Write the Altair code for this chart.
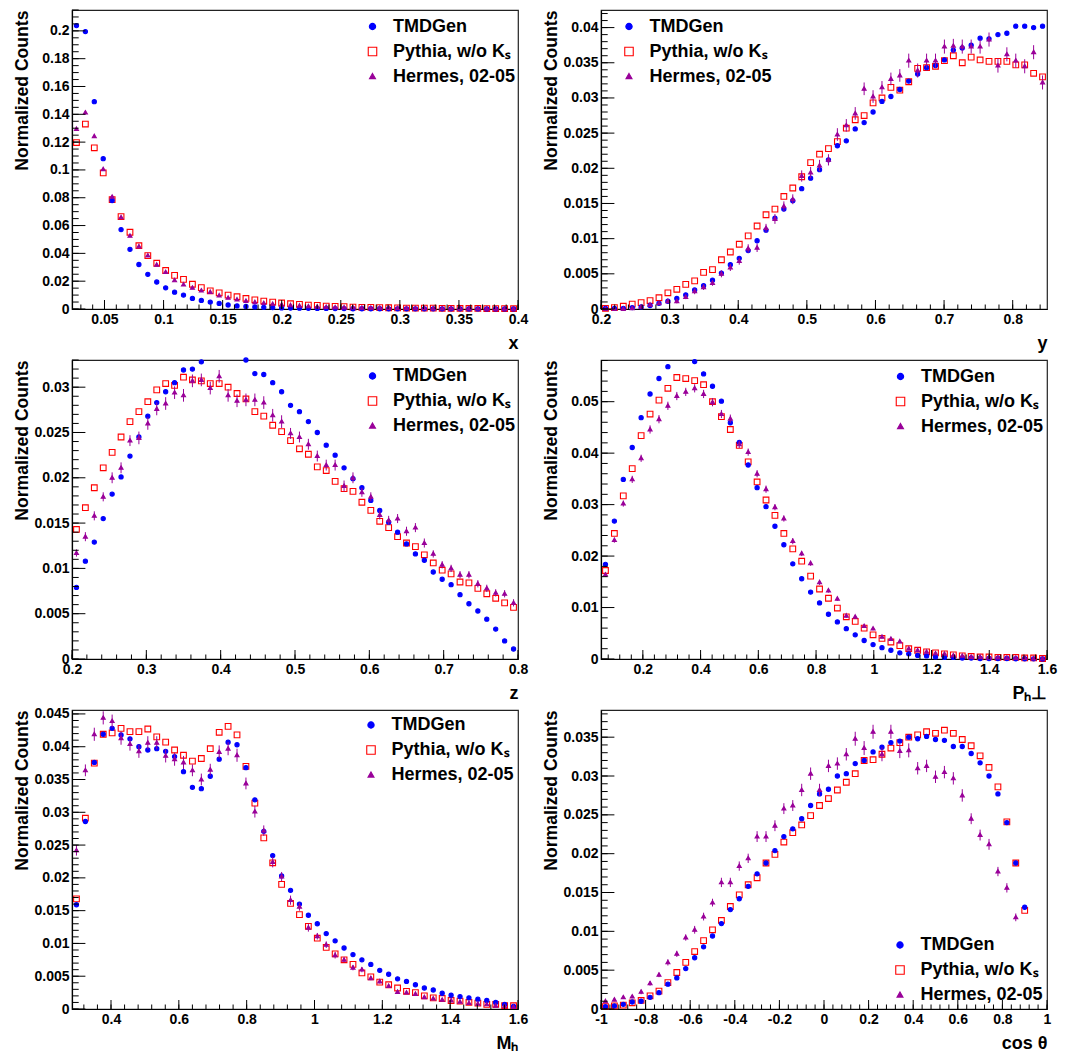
import altair as alt
import pandas as pd

FONT = "Liberation Sans"
BLUE = "#0000ff"
RED = "#ff0000"
PURPLE = "#990099"
SERIES = ["TMDGen", "Pythia, w/o K\u209b", "Hermes, 02-05"]
# marker outlines (unit paths, scaled by the size channel)
CIRCLE = "M0.63,0A0.63,0.63 0 1,1 -0.63,0A0.63,0.63 0 1,1 0.63,0Z"
SQUARE = "M-0.85,-0.85H0.85V0.85H-0.85Z"
TRIANGLE = "M0,-0.62L0.6,0.42L-0.6,0.42Z"
W, H = 446, 299

# ---------------- x ----------------
X_BINS = (0.0225, 0.4)
X_TMD = [0.2038, 0.1995, 0.1491, 0.1081, 0.0780, 0.0571, 0.0429, 0.0320, 0.0249, 0.0194,
         0.0152, 0.0121, 0.0100, 0.0076, 0.0062, 0.0050, 0.0040, 0.0029, 0.0022, 0.0018,
         0.0015, 0.0012, 0.0010, 0.0008, 0.0007, 0.0006, 0.0005, 0.0004, 0.0004, 0.0003,
         0.0003, 0.0002, 0.0002, 0.0002, 0.0002, 0.0001, 0.0001, 0.0001, 0.0001, 0.0001,
         0.0001, 0.0001, 0.0001, 0.0001, 0.00005, 0.00005, 0.00005, 0.00005, 0.00005, 0.00005]
X_PYT = [0.1197, 0.1330, 0.1159, 0.0979, 0.0787, 0.0664, 0.0552, 0.0455, 0.0384, 0.0329,
         0.0277, 0.0242, 0.0213, 0.0178, 0.0154, 0.0130, 0.0116, 0.0100, 0.0088, 0.0076,
         0.0066, 0.0057, 0.0050, 0.0043, 0.0038, 0.0033, 0.0028, 0.0026, 0.0021, 0.0019,
         0.0017, 0.0014, 0.0012, 0.0012, 0.0010, 0.0009, 0.0008, 0.0007, 0.0007, 0.0006,
         0.0006, 0.0005, 0.0005, 0.0004, 0.0004, 0.0004, 0.0003, 0.0003, 0.0003, 0.0002]
X_HER = [0.1294, 0.1412, 0.1242, 0.1005, 0.0806, 0.0659, 0.0526, 0.0450, 0.0384, 0.0318,
         0.0265, 0.0206, 0.0175, 0.0152, 0.0132, 0.0122, 0.0097, 0.0080, 0.0068, 0.0058,
         0.0049, 0.0042, 0.0036, 0.0031, 0.0027, 0.0023, 0.0019, 0.0016, 0.0014, 0.0012,
         0.0011, 0.0010, 0.0009, 0.0008, 0.0008, 0.0007, 0.0006, 0.0006, 0.0005, 0.0005,
         0.0004, 0.0004, 0.0004, 0.0003, 0.0003, 0.0003, 0.0002, 0.0002, 0.0002, 0.0001]
X_ERR = [0.0012, 0.0013, 0.0012, 0.0011, 0.0010, 0.0009, 0.0008, 0.0007, 0.0007, 0.0006,
         0.0006, 0.0005, 0.0005, 0.0004, 0.0004, 0.0004, 0.0003, 0.0003, 0.0003, 0.0003,
         0.0002, 0.0002, 0.0002, 0.0002, 0.0002, 0.0002, 0.0001, 0.0001, 0.0001, 0.0001,
         0.0001, 0.0001, 0.0001, 0.0001, 0.0001, 0.0001, 0.0001, 0.0001, 0.0001, 0.0001,
         0.0001, 0.0001, 0.0001, 0.0001, 0.0001, 0.0001, 0.0001, 0.0001, 0.0001, 0.0001]

# ---------------- y ----------------
Y_BINS = (0.2, 0.85)
Y_TMD = [0.0001, 0.0001, 0.0001, 0.0002, 0.0003, 0.0005, 0.0008, 0.0011, 0.0015, 0.0020,
         0.0027, 0.0033, 0.0041, 0.0051, 0.0063, 0.0072, 0.0083, 0.0097, 0.0112, 0.0129,
         0.0142, 0.0154, 0.0171, 0.0186, 0.0198, 0.0212, 0.0232, 0.0239, 0.0256, 0.0265,
         0.0280, 0.0295, 0.0302, 0.0312, 0.0324, 0.0334, 0.0343, 0.0346, 0.0354, 0.0368,
         0.0371, 0.0375, 0.0385, 0.0384, 0.0390, 0.0392, 0.0402, 0.0402, 0.0400, 0.0402]
Y_PYT = [0.0001, 0.0002, 0.0004, 0.0007, 0.0009, 0.0012, 0.0016, 0.0023, 0.0028, 0.0035,
         0.0040, 0.0052, 0.0056, 0.0070, 0.0081, 0.0092, 0.0104, 0.0118, 0.0134, 0.0142,
         0.0160, 0.0172, 0.0188, 0.0208, 0.0220, 0.0228, 0.0238, 0.0257, 0.0269, 0.0275,
         0.0293, 0.0300, 0.0315, 0.0311, 0.0323, 0.0342, 0.0343, 0.0345, 0.0353, 0.0360,
         0.0350, 0.0358, 0.0354, 0.0352, 0.0352, 0.0352, 0.0347, 0.0347, 0.0335, 0.0330]
Y_HER = [0.0000, 0.0000, 0.0000, 0.0001, 0.0003, 0.0006, 0.0008, 0.0011, 0.0011, 0.0017,
         0.0025, 0.0031, 0.0037, 0.0050, 0.0059, 0.0068, 0.0086, 0.0087, 0.0115, 0.0128,
         0.0146, 0.0156, 0.0189, 0.0194, 0.0204, 0.0212, 0.0248, 0.0261, 0.0278, 0.0313,
         0.0302, 0.0315, 0.0327, 0.0332, 0.0353, 0.0339, 0.0353, 0.0353, 0.0373, 0.0374,
         0.0373, 0.0373, 0.0373, 0.0383, 0.0346, 0.0362, 0.0353, 0.0345, 0.0365, 0.0322]
Y_ERR = [0.0001, 0.0001, 0.0001, 0.0001, 0.0002, 0.0002, 0.0002, 0.0003, 0.0003, 0.0003,
         0.0004, 0.0004, 0.0004, 0.0005, 0.0005, 0.0005, 0.0006, 0.0006, 0.0006, 0.0007,
         0.0007, 0.0007, 0.0008, 0.0008, 0.0008, 0.0008, 0.0009, 0.0009, 0.0009, 0.0009,
         0.0009, 0.0009, 0.0009, 0.0009, 0.0010, 0.0010, 0.0010, 0.0010, 0.0010, 0.0010,
         0.0010, 0.0010, 0.0010, 0.0010, 0.0010, 0.0010, 0.0010, 0.0010, 0.0010, 0.0010]

# ---------------- z ----------------
Z_BINS = (0.2, 0.8)
Z_TMD = [0.0079, 0.0108, 0.0129, 0.0155, 0.0182, 0.0201, 0.0224, 0.0245, 0.0268, 0.0283,
         0.0295, 0.0305, 0.0319, 0.0320, 0.0328, 0.0334, 0.0337, 0.0337, 0.0334, 0.0330,
         0.0315, 0.0314, 0.0305, 0.0295, 0.0280, 0.0273, 0.0262, 0.0250, 0.0236, 0.0225,
         0.0211, 0.0199, 0.0189, 0.0175, 0.0164, 0.0151, 0.0140, 0.0127, 0.0116, 0.0109,
         0.0096, 0.0088, 0.0082, 0.0071, 0.0061, 0.0053, 0.0044, 0.0033, 0.0020, 0.0011]
Z_PYT = [0.0143, 0.0167, 0.0189, 0.0211, 0.0228, 0.0245, 0.0262, 0.0273, 0.0284, 0.0297,
         0.0304, 0.0302, 0.0311, 0.0308, 0.0307, 0.0304, 0.0304, 0.0300, 0.0293, 0.0287,
         0.0273, 0.0268, 0.0258, 0.0251, 0.0241, 0.0232, 0.0226, 0.0212, 0.0208, 0.0196,
         0.0188, 0.0185, 0.0173, 0.0164, 0.0152, 0.0145, 0.0135, 0.0128, 0.0124, 0.0115,
         0.0106, 0.0098, 0.0094, 0.0085, 0.0084, 0.0078, 0.0072, 0.0067, 0.0062, 0.0057]
Z_HER = [0.0117, 0.0135, 0.0158, 0.0179, 0.0200, 0.0211, 0.0241, 0.0244, 0.0260, 0.0276,
         0.0282, 0.0294, 0.0291, 0.0307, 0.0308, 0.0299, 0.0312, 0.0291, 0.0285, 0.0286,
         0.0286, 0.0283, 0.0269, 0.0262, 0.0249, 0.0245, 0.0237, 0.0224, 0.0214, 0.0214,
         0.0191, 0.0200, 0.0184, 0.0179, 0.0159, 0.0153, 0.0155, 0.0141, 0.0145, 0.0128,
         0.0116, 0.0104, 0.0100, 0.0093, 0.0093, 0.0083, 0.0078, 0.0073, 0.0072, 0.0062]
Z_ERR = [0.0004, 0.0005, 0.0005, 0.0005, 0.0006, 0.0006, 0.0006, 0.0007, 0.0007, 0.0007,
         0.0007, 0.0007, 0.0007, 0.0007, 0.0007, 0.0007, 0.0007, 0.0007, 0.0007, 0.0007,
         0.0007, 0.0007, 0.0007, 0.0007, 0.0006, 0.0006, 0.0006, 0.0006, 0.0006, 0.0006,
         0.0006, 0.0006, 0.0005, 0.0005, 0.0005, 0.0005, 0.0005, 0.0005, 0.0005, 0.0005,
         0.0004, 0.0004, 0.0004, 0.0004, 0.0004, 0.0004, 0.0004, 0.0004, 0.0004, 0.0004]

# ---------------- P_h_perp ----------------
P_BINS = (0.055, 1.6)
P_TMD = [0.0184, 0.0268, 0.0349, 0.0411, 0.0469, 0.0515, 0.0545, 0.0568, 0.0586, 0.0588,
         0.0578, 0.0554, 0.0530, 0.0501, 0.0459, 0.0421, 0.0377, 0.0333, 0.0296, 0.0258,
         0.0222, 0.0185, 0.0156, 0.0130, 0.0109, 0.0087, 0.0072, 0.0059, 0.0047, 0.0036,
         0.0028, 0.0022, 0.0017, 0.0012, 0.0010, 0.0007, 0.0006, 0.0004, 0.0003, 0.0003,
         0.0002, 0.0002, 0.0001, 0.0001, 0.0001, 0.0001, 0.00005, 0.00005, 0.00003, 0.00002]
P_PYT = [0.0172, 0.0244, 0.0317, 0.0370, 0.0434, 0.0476, 0.0503, 0.0526, 0.0547, 0.0545,
         0.0541, 0.0533, 0.0500, 0.0471, 0.0446, 0.0415, 0.0383, 0.0344, 0.0309, 0.0279,
         0.0244, 0.0214, 0.0190, 0.0161, 0.0136, 0.0118, 0.0099, 0.0082, 0.0073, 0.0060,
         0.0047, 0.0040, 0.0033, 0.0026, 0.0020, 0.0017, 0.0014, 0.0012, 0.0010, 0.0008,
         0.0006, 0.0005, 0.0004, 0.0004, 0.0003, 0.0003, 0.0003, 0.0002, 0.0002, 0.0001]
P_HER = [0.0164, 0.0231, 0.0302, 0.0349, 0.0390, 0.0446, 0.0466, 0.0492, 0.0511, 0.0519,
         0.0526, 0.0515, 0.0499, 0.0476, 0.0467, 0.0417, 0.0402, 0.0360, 0.0330, 0.0295,
         0.0273, 0.0229, 0.0205, 0.0186, 0.0149, 0.0133, 0.0117, 0.0084, 0.0082, 0.0064,
         0.0059, 0.0043, 0.0039, 0.0034, 0.0020, 0.0017, 0.0014, 0.0011, 0.0010, 0.0007,
         0.0006, 0.0004, 0.0004, 0.0003, 0.0003, 0.0002, 0.0002, 0.0002, 0.0001, 0.0001]
P_ERR = [0.0004, 0.0005, 0.0006, 0.0007, 0.0007, 0.0008, 0.0008, 0.0008, 0.0008, 0.0008,
         0.0008, 0.0008, 0.0008, 0.0008, 0.0008, 0.0007, 0.0007, 0.0007, 0.0007, 0.0006,
         0.0006, 0.0006, 0.0005, 0.0005, 0.0005, 0.0004, 0.0004, 0.0004, 0.0003, 0.0003,
         0.0003, 0.0003, 0.0002, 0.0002, 0.0002, 0.0002, 0.0002, 0.0001, 0.0001, 0.0001,
         0.0001, 0.0001, 0.0001, 0.0001, 0.0001, 0.0001, 0.0001, 0.0001, 0.0001, 0.0001]

# ---------------- M_h ----------------
M_BINS = (0.285, 1.6)
M_TMD = [0.0159, 0.0286, 0.0376, 0.0419, 0.0428, 0.0418, 0.0412, 0.0400, 0.0395, 0.0397,
         0.0393, 0.0385, 0.0362, 0.0338, 0.0336, 0.0355, 0.0381, 0.0407, 0.0403, 0.0368,
         0.0319, 0.0271, 0.0234, 0.0203, 0.0181, 0.0160, 0.0143, 0.0130, 0.0115, 0.0104,
         0.0093, 0.0083, 0.0075, 0.0068, 0.0059, 0.0053, 0.0046, 0.0042, 0.0037, 0.0032,
         0.0029, 0.0024, 0.0021, 0.0019, 0.0017, 0.0015, 0.0013, 0.0010, 0.0007, 0.0004]
M_PYT = [0.0168, 0.0291, 0.0375, 0.0419, 0.0421, 0.0428, 0.0423, 0.0423, 0.0427, 0.0415,
         0.0407, 0.0395, 0.0387, 0.0378, 0.0382, 0.0397, 0.0422, 0.0431, 0.0418, 0.0370,
         0.0314, 0.0261, 0.0223, 0.0190, 0.0161, 0.0144, 0.0126, 0.0108, 0.0094, 0.0084,
         0.0075, 0.0068, 0.0055, 0.0049, 0.0041, 0.0037, 0.0032, 0.0027, 0.0025, 0.0020,
         0.0017, 0.0016, 0.0013, 0.0012, 0.0010, 0.0009, 0.0007, 0.0007, 0.0005, 0.0005]
M_HER = [0.0242, 0.0364, 0.0419, 0.0444, 0.0439, 0.0413, 0.0404, 0.0393, 0.0406, 0.0406,
         0.0386, 0.0381, 0.0376, 0.0364, 0.0350, 0.0365, 0.0392, 0.0397, 0.0387, 0.0344,
         0.0301, 0.0272, 0.0224, 0.0202, 0.0166, 0.0156, 0.0124, 0.0111, 0.0098, 0.0082,
         0.0075, 0.0063, 0.0060, 0.0047, 0.0042, 0.0035, 0.0026, 0.0025, 0.0023, 0.0018,
         0.0016, 0.0014, 0.0013, 0.0011, 0.0009, 0.0008, 0.0007, 0.0005, 0.0004, 0.0003]
M_ERR = [0.0008, 0.0009, 0.0010, 0.0010, 0.0010, 0.0010, 0.0010, 0.0010, 0.0010, 0.0010,
         0.0010, 0.0010, 0.0010, 0.0009, 0.0009, 0.0009, 0.0010, 0.0010, 0.0010, 0.0009,
         0.0009, 0.0008, 0.0008, 0.0007, 0.0007, 0.0006, 0.0006, 0.0005, 0.0005, 0.0005,
         0.0004, 0.0004, 0.0004, 0.0003, 0.0003, 0.0003, 0.0003, 0.0002, 0.0002, 0.0002,
         0.0002, 0.0002, 0.0002, 0.0001, 0.0001, 0.0001, 0.0001, 0.0001, 0.0001, 0.0001]

# ---------------- cos theta ----------------
C_BINS = (-1.0, 1.0)
C_TMD = [0.0003, 0.0004, 0.0006, 0.0009, 0.0010, 0.0015, 0.0021, 0.0032, 0.0040, 0.0052,
         0.0066, 0.0080, 0.0094, 0.0110, 0.0128, 0.0142, 0.0158, 0.0174, 0.0188, 0.0204,
         0.0222, 0.0232, 0.0245, 0.0262, 0.0277, 0.0283, 0.0300, 0.0303, 0.0316, 0.0320,
         0.0331, 0.0337, 0.0343, 0.0345, 0.0350, 0.0348, 0.0351, 0.0347, 0.0346, 0.0338,
         0.0338, 0.0329, 0.0317, 0.0300, 0.0277, 0.0240, 0.0188, 0.0131, None, None]
C_PYT = [0.0003, 0.0004, 0.0005, 0.0008, 0.0011, 0.0017, 0.0023, 0.0034, 0.0047, 0.0060,
         0.0074, 0.0088, 0.0102, 0.0114, 0.0132, 0.0147, 0.0160, 0.0169, 0.0188, 0.0199,
         0.0215, 0.0227, 0.0237, 0.0249, 0.0262, 0.0271, 0.0282, 0.0292, 0.0303, 0.0320,
         0.0321, 0.0328, 0.0336, 0.0343, 0.0350, 0.0353, 0.0357, 0.0355, 0.0359, 0.0355,
         0.0347, 0.0339, 0.0326, 0.0311, 0.0286, 0.0241, 0.0188, 0.0127, None, None]
C_HER = [0.0010, 0.0012, 0.0015, 0.0016, 0.0022, 0.0033, 0.0044, 0.0060, 0.0071, 0.0092,
         0.0102, 0.0119, 0.0137, 0.0163, 0.0163, 0.0184, 0.0194, 0.0222, 0.0222, 0.0236,
         0.0258, 0.0262, 0.0282, 0.0303, 0.0282, 0.0313, 0.0316, 0.0328, 0.0348, 0.0336,
         0.0357, 0.0328, 0.0357, 0.0332, 0.0333, 0.0310, 0.0313, 0.0299, 0.0305, 0.0297,
         0.0275, 0.0245, 0.0224, 0.0212, 0.0177, 0.0156, 0.0118, None, None, None]
C_ERR = [0.0002, 0.0002, 0.0002, 0.0002, 0.0003, 0.0003, 0.0003, 0.0004, 0.0004, 0.0004,
         0.0005, 0.0005, 0.0005, 0.0006, 0.0006, 0.0006, 0.0006, 0.0007, 0.0007, 0.0007,
         0.0007, 0.0007, 0.0008, 0.0008, 0.0008, 0.0008, 0.0008, 0.0008, 0.0009, 0.0009,
         0.0009, 0.0009, 0.0009, 0.0009, 0.0009, 0.0008, 0.0008, 0.0008, 0.0008, 0.0008,
         0.0008, 0.0007, 0.0007, 0.0007, 0.0006, 0.0006, 0.0005, None, None, None]


def tick_list(start, stop, step, lo, hi):
    n = int(round((stop - start) / step))
    vals = [round(start + k * step, 6) for k in range(n + 1)]
    return [v for v in vals if lo - 1e-9 <= v <= hi + 1e-9]


LABEL_EXPR = "replace(format(datum.value, '~g'), '\u2212', '-')"


def make_panel(xtitle, bins, xdom, ydom, xmaj, xmin_, ymaj, ymin_,
               tmd, pyt, her, err, legx, legy):
    lo, hi = bins
    n = len(tmd)
    w = (hi - lo) / n
    centers = [lo + (i + 0.5) * w for i in range(n)]
    recs = []
    for name, arr in ((SERIES[1], pyt), (SERIES[0], tmd), (SERIES[2], her)):
        for i, v in enumerate(arr):
            if v is None:
                continue
            e = err[i] if (name == SERIES[2] and err[i] is not None) else 0.0
            recs.append({"xc": centers[i], "v": v, "s": name, "e": e})
    df = pd.DataFrame(recs)

    xsc = alt.Scale(domain=list(xdom), nice=False, zero=False)
    ysc = alt.Scale(domain=list(ydom), nice=False, zero=False)

    xax = alt.Axis(values=xmaj, labelExpr=LABEL_EXPR, ticks=False, grid=False,
                   labelFont=FONT, labelFontWeight="bold", labelFontSize=14,
                   labelColor="black", labelPadding=3, labelFlush=False,
                   labelOverlap=False, domainColor="black", domainWidth=1.2,
                   title=xtitle, titleFont=FONT, titleFontWeight="bold",
                   titleFontSize=18, titleColor="black", titleX=W, titleY=39,
                   titleAlign="right", titleAnchor="end", titleBaseline="alphabetic")
    yax = alt.Axis(values=ymaj, labelExpr=LABEL_EXPR, ticks=False, grid=False,
                   labelFont=FONT, labelFontWeight="bold", labelFontSize=14,
                   labelColor="black", labelPadding=3, labelFlush=False,
                   labelOverlap=False, domainColor="black", domainWidth=1.2,
                   title="Normalized Counts", titleFont=FONT, titleFontWeight="bold",
                   titleFontSize=17.6, titleColor="black", titleX=-49.5, titleY=0,
                   titleAlign="right", titleAnchor="end", titleAngle=270,
                   titleBaseline="middle")

    leg = alt.Legend(title=None, orient="none", legendX=legx, legendY=legy,
                     labelFont=FONT, labelFontWeight="bold", labelFontSize=18,
                     labelColor="black", labelLimit=300, rowPadding=7,
                     labelOffset=11.5, padding=0, symbolStrokeWidth=1.1,
                     symbolOpacity=1)

    # inner tick marks (ROOT style)
    xt_major = alt.Chart(pd.DataFrame({"t": xmaj})).mark_rule(
        color="black", strokeWidth=1).encode(
        x=alt.X("t:Q", scale=xsc, axis=xax), y=alt.value(H), y2=alt.value(H - 9))
    xt_minor = alt.Chart(pd.DataFrame({"t": xmin_})).mark_rule(
        color="black", strokeWidth=1).encode(
        x=alt.X("t:Q", scale=xsc, axis=xax), y=alt.value(H), y2=alt.value(H - 4.5))
    yt_major = alt.Chart(pd.DataFrame({"t": ymaj})).mark_rule(
        color="black", strokeWidth=1).encode(
        y=alt.Y("t:Q", scale=ysc, axis=yax), x=alt.value(0), x2=alt.value(13.4))
    yt_minor = alt.Chart(pd.DataFrame({"t": ymin_})).mark_rule(
        color="black", strokeWidth=1).encode(
        y=alt.Y("t:Q", scale=ysc, axis=yax), x=alt.value(0), x2=alt.value(6.7))

    base = alt.Chart(df)
    errbars = base.transform_filter(
        f"datum.e > 0 && datum.v <= {ydom[1]}"
    ).transform_calculate(
        lo="datum.v - datum.e", hi="datum.v + datum.e"
    ).mark_rule(color=PURPLE, strokeWidth=1, clip=True).encode(
        x=alt.X("xc:Q", scale=xsc, axis=xax),
        y=alt.Y("lo:Q", scale=ysc, axis=yax),
        y2="hi:Q",
    )
    points = base.transform_filter(f"datum.v <= {ydom[1]}").mark_point(
        filled=False, opacity=1, strokeWidth=1.1, size=45).encode(
        x=alt.X("xc:Q", scale=xsc, axis=xax),
        y=alt.Y("v:Q", scale=ysc, axis=yax),
        shape=alt.Shape("s:N", scale=alt.Scale(domain=SERIES, range=[CIRCLE, SQUARE, TRIANGLE]), legend=leg),
        stroke=alt.Stroke("s:N", scale=alt.Scale(domain=SERIES, range=[BLUE, RED, PURPLE]), legend=leg),
        fill=alt.Fill("s:N", scale=alt.Scale(domain=SERIES, range=[BLUE, "transparent", PURPLE]), legend=leg),
    )
    return alt.layer(points, errbars, xt_major, xt_minor, yt_major, yt_minor).properties(
        width=W, height=H)


p1 = make_panel("x", X_BINS, (0.0225, 0.4), (0, 0.215),
                tick_list(0.05, 0.4, 0.05, 0.0225, 0.4), tick_list(0.03, 0.4, 0.01, 0.0225, 0.4),
                tick_list(0, 0.2, 0.02, 0, 0.215), tick_list(0, 0.215, 0.005, 0, 0.215),
                X_TMD, X_PYT, X_HER, X_ERR, 291.5, 7.5)
p2 = make_panel("y", Y_BINS, (0.2, 0.85), (0, 0.0425),
                tick_list(0.2, 0.8, 0.1, 0.2, 0.85), tick_list(0.2, 0.84, 0.02, 0.2, 0.85),
                tick_list(0, 0.04, 0.005, 0, 0.0425), tick_list(0, 0.042, 0.001, 0, 0.0425),
                Y_TMD, Y_PYT, Y_HER, Y_ERR, 19, 7.5)
p3 = make_panel("z", Z_BINS, (0.2, 0.8), (0, 0.033),
                tick_list(0.2, 0.8, 0.1, 0.2, 0.8), tick_list(0.2, 0.8, 0.02, 0.2, 0.8),
                tick_list(0, 0.03, 0.005, 0, 0.033), tick_list(0, 0.033, 0.001, 0, 0.033),
                Z_TMD, Z_PYT, Z_HER, Z_ERR, 291.5, 7)
p4 = make_panel("P\u2095\u22a5", P_BINS, (0.055, 1.6), (0, 0.0581),
                tick_list(0.2, 1.6, 0.2, 0.055, 1.6), tick_list(0.08, 1.6, 0.04, 0.055, 1.6),
                tick_list(0, 0.05, 0.01, 0, 0.0581), tick_list(0, 0.058, 0.002, 0, 0.0581),
                P_TMD, P_PYT, P_HER, P_ERR, 290.5, 7.5)
p5 = make_panel("M\u2095", M_BINS, (0.285, 1.6), (0, 0.0456),
                tick_list(0.4, 1.6, 0.2, 0.285, 1.6), tick_list(0.32, 1.6, 0.04, 0.285, 1.6),
                tick_list(0, 0.045, 0.005, 0, 0.0456), tick_list(0, 0.045, 0.001, 0, 0.0456),
                M_TMD, M_PYT, M_HER, M_ERR, 290, 6)
p6 = make_panel("cos \u03b8", C_BINS, (-1, 1), (0, 0.0385),
                tick_list(-1, 1, 0.2, -1, 1), tick_list(-1, 1, 0.04, -1, 1),
                tick_list(0, 0.035, 0.005, 0, 0.0385), tick_list(0, 0.038, 0.001, 0, 0.0385),
                C_TMD, C_PYT, C_HER, C_ERR, 290, 226)

chart = alt.concat(
    p1, p2, p3, p4, p5, p6, columns=2,
    spacing=alt.RowColnumber(row=51, column=83), bounds="flush",
).resolve_scale(
    shape="independent", stroke="independent", fill="independent"
).resolve_legend(
    shape="independent", stroke="independent", fill="independent"
).configure_view(
    stroke="#222222", strokeWidth=1.2
).properties(
    padding={"left": 4, "top": 0, "right": 0, "bottom": 0}, background="white"
)

chart.save("out.html", embed_options={"renderer": "svg", "actions": False})
